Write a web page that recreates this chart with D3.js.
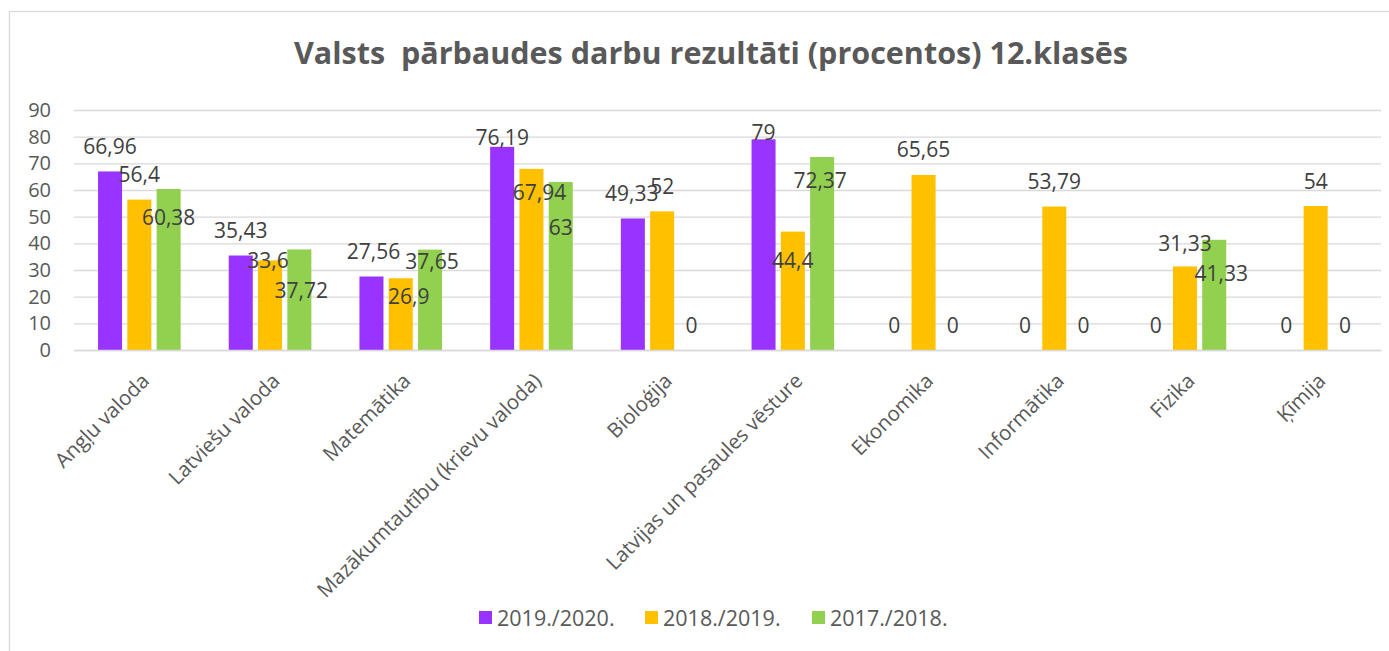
<!DOCTYPE html>
<html>
<head>
<meta charset="utf-8">
<script src="https://cdn.jsdelivr.net/npm/d3@7"></script>
<style>
  body { margin: 0; background: #fff; }
  svg text { font-family: "Open Sans", "DejaVu Sans", sans-serif; }
</style>
</head>
<body>
<div id="chart"></div>
<script>
// data
const subjects = ["Angļu valoda", "Latviešu valoda", "Matemātika", "Mazākumtautību (krievu valoda)",
  "Bioloģija", "Latvijas un pasaules vēsture", "Ekonomika", "Informātika", "Fizika", "Ķīmija"];
const seriesNames = ["2019./2020.", "2018./2019.", "2017./2018."];
const values2019 = [66.96, 35.43, 27.56, 76.19, 49.33, 79, 0, 0, 0, 0];
const values2018 = [56.4, 33.6, 26.9, 67.94, 52, 44.4, 65.65, 53.79, 31.33, 54];
const values2017 = [60.38, 37.72, 37.65, 63, 0, 72.37, 0, 0, 41.33, 0];
const yTicks = [0, 10, 20, 30, 40, 50, 60, 70, 80, 90];

const colors = ["#9933ff", "#ffc000", "#92d050"];

// data labels were moved by hand in the original chart (px, from default outside-end spot)
const labelNudgeX = [
  [0, 0, 2, 0, -1, 0, 0, 0, 0, 0],
  [0, -2, 8, 8, 0, 0, 0, 0, 0, 0],
  [0, 2, 2, 0, 0, -2, 0, 0, 7, 0]
];
const labelNudgeY = [
  [0, 0, 0, 16, 0, 18, 0, 0, 0, 0],
  [0, 25, 43, 49, 0, 54, 0, 0, 2, 0],
  [53, 66, 37, 70, 0, 48, 0, 0, 59, 0]
];

const allValues = [values2019, values2018, values2017];
const rows = [];
allValues.forEach((vals, s) => {
  vals.forEach((v, i) => rows.push({ s, i, subject: subjects[i], series: seriesNames[s], value: v }));
});

const W = 1389, H = 651;
const plotLeft = 74, plotRight = 1381, plotTop = 110, plotBottom = 350;

const svg = d3.select('#chart').append('svg')
  .attr('width', W)
  .attr('height', H);

// chart frame
svg.append('rect')
  .attr('x', 9.5).attr('y', 11.5)
  .attr('width', W + 20).attr('height', H + 20)
  .attr('fill', '#fff')
  .attr('stroke', '#d9d9d9')
  .attr('stroke-width', 1.3);

// title
svg.append('text')
  .attr('x', 711)
  .attr('y', 64)
  .attr('text-anchor', 'middle')
  .style('font-size', '30.5px')
  .style('font-weight', 'bold')
  .style('fill', '#595959')
  .style('white-space', 'pre')
  .text('Valsts  pārbaudes darbu rezultāti (procentos) 12.klasēs');

const x0 = d3.scaleBand()
  .domain(subjects)
  .range([plotLeft, plotRight])
  .paddingInner(0.368)
  .paddingOuter(0.184);

const x1 = d3.scaleBand()
  .domain(seriesNames)
  .range([0, x0.bandwidth()])
  .paddingInner(0.18);

const y = d3.scaleLinear().domain([0, 90]).range([plotBottom, plotTop]);

// y axis + gridlines
const yAxis = svg.append('g')
  .attr('transform', `translate(${plotLeft},0)`)
  .call(d3.axisLeft(y).tickValues(yTicks).tickSize(-(plotRight - plotLeft)).tickPadding(23));

yAxis.select('.domain').remove();
yAxis.selectAll('line').style('stroke', '#d9d9d9').style('stroke-width', 1.3);
yAxis.selectAll('text')
  .style('font-size', '20px')
  .style('fill', '#595959');

// bars
svg.append('g')
  .selectAll('rect')
  .data(rows)
  .enter().append('rect')
  .attr('x', d => x0(d.subject) + x1(d.series))
  .attr('y', d => y(d.value))
  .attr('width', x1.bandwidth())
  .attr('height', d => y(0) - y(d.value))
  .style('fill', d => colors[d.s]);

// x axis
const xAxis = svg.append('g')
  .attr('transform', `translate(0,${plotBottom})`)
  .call(d3.axisBottom(x0).tickSize(0));

xAxis.select('.domain').style('stroke', '#d9d9d9').style('stroke-width', 1.3);
xAxis.selectAll('text')
  .attr('x', 0)
  .attr('y', 0)
  .attr('dy', '0.35em')
  .attr('transform', 'translate(6,27) rotate(-45)')
  .style('text-anchor', 'end')
  .style('font-size', '20.5px')
  .style('fill', '#595959');

// data labels
svg.append('g')
  .selectAll('text')
  .data(rows)
  .enter().append('text')
  .attr('x', d => x0(d.subject) + x1(d.series) + x1.bandwidth() / 2 + labelNudgeX[d.s][d.i])
  .attr('y', d => y(d.value) - 25 + labelNudgeY[d.s][d.i])
  .attr('dy', '0.36em')
  .attr('text-anchor', 'middle')
  .style('font-size', '21px')
  .style('fill', '#404040')
  .text(d => String(d.value).replace('.', ','));

// legend
const legendItems = [
  { name: seriesNames[0], x: 479 },
  { name: seriesNames[1], x: 645 },
  { name: seriesNames[2], x: 812 }
];
const legend = svg.append('g');
const li = legend.selectAll('g')
  .data(legendItems)
  .enter().append('g')
  .attr('transform', d => `translate(${d.x},618)`);

li.append('rect')
  .attr('x', 0).attr('y', -7)
  .attr('width', 13).attr('height', 13)
  .style('fill', (d, i) => colors[i]);

li.append('text')
  .attr('x', 18)
  .attr('dy', '0.36em')
  .style('font-size', '21.5px')
  .style('fill', '#595959')
  .text(d => d.name);
</script>
</body>
</html>
